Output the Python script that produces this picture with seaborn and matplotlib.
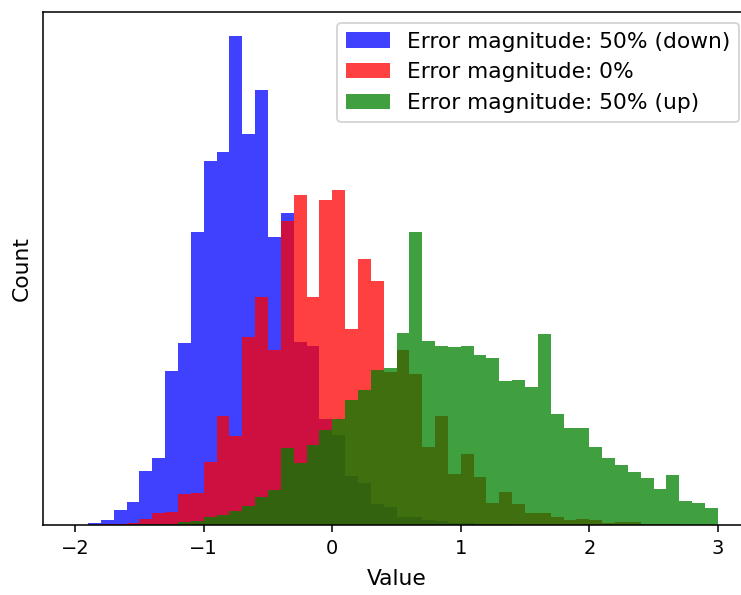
import numpy as np
import pandas as pd
import matplotlib
matplotlib.use("Agg")
import matplotlib.pyplot as plt
import seaborn as sns

# Bin edges: -2.0 .. 3.0, width 0.1
bin_edges = [round(-2.0 + 0.1 * i, 2) for i in range(51)]
bin_centers = [round(-1.95 + 0.1 * i, 3) for i in range(50)]

labels = ["Error magnitude: 50% (down)", "Error magnitude: 0%", "Error magnitude: 50% (up)"]
colors = ["blue", "red", "green"]

counts_down = [0, 2, 5, 15, 23, 54, 67, 154, 182, 293,
               364, 373, 489, 391, 435, 288, 312, 183, 179, 106,
               90, 49, 42, 21, 18, 8, 8, 5, 4, 2,
               2, 1, 1, 1, 0, 0, 0, 0, 0, 0,
               0, 0, 0, 0, 0, 0, 0, 0, 0, 0]
counts_zero = [0, 0, 1, 1, 2, 6, 12, 13, 31, 32,
               63, 109, 89, 188, 228, 175, 304, 330, 228, 325,
               335, 196, 266, 244, 153, 175, 151, 78, 109, 51,
               71, 48, 22, 33, 21, 12, 12, 8, 5, 6,
               5, 2, 3, 3, 1, 1, 1, 0, 0, 0]
counts_up = [0, 0, 0, 0, 0, 1, 1, 1, 3, 4,
             8, 10, 14, 19, 28, 35, 77, 62, 80, 95,
             106, 125, 135, 155, 157, 192, 293, 184, 179, 178,
             179, 170, 167, 144, 145, 138, 191, 111, 97, 97,
             78, 67, 60, 53, 47, 36, 50, 24, 22, 17]

series = [counts_down, counts_zero, counts_up]

fig = plt.figure(figsize=(741 / 140, 595 / 140), dpi=140)
ax = fig.add_axes([43 / 741, 70 / 595, 707 / 741, 513 / 595])

for lab, col, cnt in zip(labels, colors, series):
    df = pd.DataFrame({"Value": bin_centers, "w": cnt})
    sns.histplot(data=df, x="Value", weights="w", bins=bin_edges, color=col,
                 alpha=0.75, linewidth=0, label=lab, ax=ax)

ax.set_xlim(-2.25, 3.25)
ax.set_yticks([])
ax.set_xlabel("Value", fontsize=11.2, labelpad=6)
ax.set_ylabel("Count", fontsize=11.2, labelpad=6)
ax.tick_params(axis="x", labelsize=10)
ax.legend(loc="upper right", fontsize=11.2)

fig.savefig("out.png", dpi=140)
